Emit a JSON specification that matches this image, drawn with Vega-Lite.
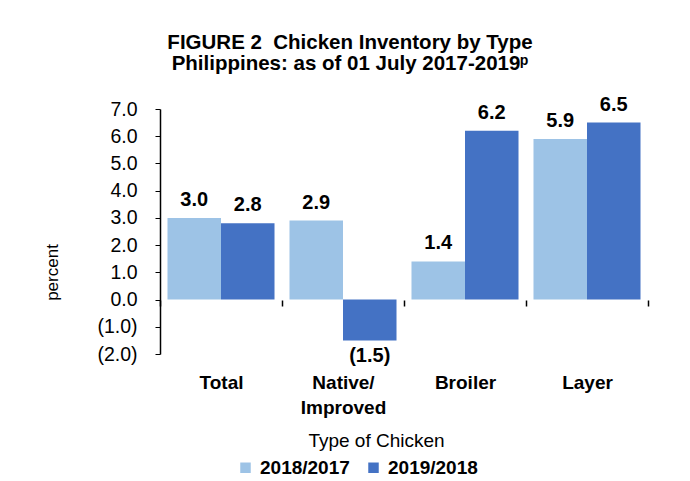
{
  "$schema": "https://vega.github.io/schema/vega-lite/v6.json",
  "autosize": {"type": "none"},
  "width": 488,
  "height": 245,
  "padding": {"left": 160, "top": 109, "right": 42, "bottom": 127},
  "background": "white",
  "config": {
    "font": "Liberation Sans",
    "view": {"stroke": null}
  },
  "title": {
    "text": ["FIGURE 2\u00a0\u00a0Chicken Inventory by Type", "Philippines: as of 01 July 2017-2019ᵖ"],
    "anchor": "middle",
    "dx": -54,
    "offset": 20,
    "fontSize": 20.5,
    "fontWeight": "bold",
    "lineHeight": 21,
    "color": "black",
    "font": "Liberation Sans"
  },
  "data": {
    "values": [
      {"type": "Total", "period": "2018/2017", "value": 3.0, "label": "3.0"},
      {"type": "Total", "period": "2019/2018", "value": 2.8, "label": "2.8"},
      {"type": "Native/Improved", "period": "2018/2017", "value": 2.9, "label": "2.9"},
      {"type": "Native/Improved", "period": "2019/2018", "value": -1.5, "label": "(1.5)"},
      {"type": "Broiler", "period": "2018/2017", "value": 1.4, "label": "1.4"},
      {"type": "Broiler", "period": "2019/2018", "value": 6.2, "label": "6.2"},
      {"type": "Layer", "period": "2018/2017", "value": 5.9, "label": "5.9"},
      {"type": "Layer", "period": "2019/2018", "value": 6.5, "label": "6.5"}
    ]
  },
  "encoding": {
    "x": {
      "field": "type",
      "type": "nominal",
      "sort": ["Total", "Native/Improved", "Broiler", "Layer"],
      "scale": {"paddingInner": 0, "paddingOuter": 0},
      "axis": {
        "title": "Type of Chicken",
        "titleFontSize": 19,
        "titleFontWeight": "normal",
        "titleColor": "black",
        "titleX": 216,
        "titleY": 140,
        "titleBaseline": "middle",
        "offset": -54,
        "domain": false,
        "ticks": true,
        "tickBand": "extent",
        "tickSize": 6,
        "tickColor": "black",
        "tickWidth": 1.5,
        "labelAngle": 0,
        "labelPadding": 67,
        "labelFontSize": 19,
        "labelFontWeight": "bold",
        "labelColor": "black",
        "labelBaseline": "top",
        "labelLineHeight": 25,
        "labelExpr": "datum.label == 'Native/Improved' ? ['Native/', 'Improved'] : datum.label"
      }
    },
    "xOffset": {
      "field": "period",
      "type": "nominal",
      "scale": {"paddingInner": 0, "paddingOuter": 0.14}
    },
    "y": {
      "field": "value",
      "type": "quantitative",
      "scale": {"domain": [-2, 7], "nice": false},
      "axis": {
        "title": "percent",
        "titleFontSize": 17,
        "titleFontWeight": "normal",
        "titleColor": "black",
        "titleX": -108,
        "titleY": 163,
        "titleBaseline": "middle",
        "values": [-2, -1, 0, 1, 2, 3, 4, 5, 6, 7],
        "tickCount": 10,
        "labelOverlap": false,
        "grid": false,
        "domainColor": "black",
        "domainWidth": 1.5,
        "tickColor": "black",
        "tickSize": 5,
        "labelPadding": 18,
        "labelFontSize": 19.5,
        "labelColor": "black",
        "labelExpr": "datum.value < 0 ? '(' + format(-datum.value, '.1f') + ')' : format(datum.value, '.1f')"
      }
    }
  },
  "layer": [
    {
      "mark": {"type": "bar"},
      "encoding": {
        "color": {
          "field": "period",
          "type": "nominal",
          "scale": {"domain": ["2018/2017", "2019/2018"], "range": ["#9DC3E6", "#4472C4"]},
          "legend": {
            "title": null,
            "orient": "none",
            "direction": "horizontal",
            "legendX": 76,
            "legendY": 349,
            "symbolType": "square",
            "symbolSize": 110,
            "symbolStrokeWidth": 0,
            "labelFontSize": 19,
            "labelFontWeight": "bold",
            "labelColor": "black",
            "columnPadding": 14,
            "labelOffset": 5
          }
        }
      }
    },
    {
      "mark": {"type": "rule", "color": "black", "strokeWidth": 1.5},
      "encoding": {"y": {"datum": 0}}
    },
    {
      "transform": [{"filter": "datum.value >= 0"}],
      "mark": {"type": "text", "baseline": "bottom", "dy": -8, "fontSize": 20, "fontWeight": "bold", "color": "black"},
      "encoding": {
        "text": {"field": "label"}
      }
    },
    {
      "transform": [{"filter": "datum.value < 0"}],
      "mark": {"type": "text", "baseline": "top", "dy": 6, "fontSize": 20, "fontWeight": "bold", "color": "black"},
      "encoding": {
        "text": {"field": "label"}
      }
    }
  ]
}
